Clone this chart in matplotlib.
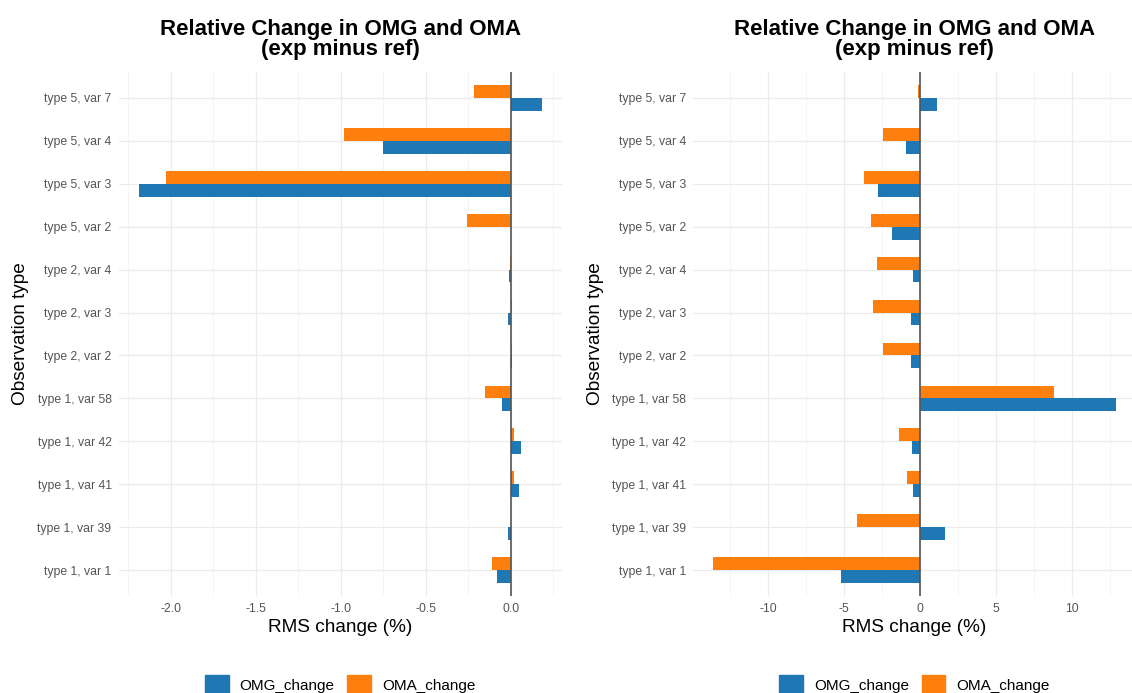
import numpy as np
import matplotlib
matplotlib.use("Agg")
import matplotlib.pyplot as plt
from matplotlib.patches import Patch

plt.rcParams['font.family'] = ['Liberation Sans', 'DejaVu Sans']

# categories, bottom to top
obs_types = ["type 1, var 1", "type 1, var 39", "type 1, var 41", "type 1, var 42",
             "type 1, var 58", "type 2, var 2", "type 2, var 3", "type 2, var 4",
             "type 5, var 2", "type 5, var 3", "type 5, var 4", "type 5, var 7"]

# left panel
omg_left = [-0.08, -0.02, 0.045, 0.06, -0.05, 0.004, -0.02, -0.01, 0.003, -2.19, -0.75, 0.18]
oma_left = [-0.11, 0.003, 0.02, 0.02, -0.15, 0.004, 0.005, -0.005, -0.26, -2.03, -0.98, -0.22]
ticks_left = [-2.0, -1.5, -1.0, -0.5, 0.0]

# right panel
omg_right = [-5.17, 1.64, -0.42, -0.54, 12.9, -0.6, -0.6, -0.47, -1.8, -2.77, -0.94, 1.1]
oma_right = [-13.6, -4.16, -0.82, -1.36, 8.8, -2.4, -3.1, -2.8, -3.2, -3.7, -2.4, -0.13]
ticks_right = [-10, -5, 0, 5, 10]

BLUE = "#1f77b4"
ORANGE = "#ff7f0e"
W, H = 1132, 693

fig = plt.figure(figsize=(W / 100, H / 100), dpi=100)


def panel(x0, x1, omg, oma, ticks, fmt):
    ax = fig.add_axes([x0 / W, (H - 596) / H, (x1 - x0) / W, (596 - 72) / H])
    y = np.arange(len(obs_types))
    bw = 0.3
    ax.barh(y - bw / 2, omg, height=bw, color=BLUE, zorder=3)
    ax.barh(y + bw / 2, oma, height=bw, color=ORANGE, zorder=3)
    ax.axvline(0, color="#555555", lw=1.2, zorder=4)

    lo = min(min(omg), min(oma))
    hi = max(max(omg), max(oma))
    pad = 0.05 * (hi - lo)
    ax.set_xlim(lo - pad, hi + pad)
    ax.set_ylim(-0.6, len(obs_types) - 0.4)

    ax.set_yticks(y)
    ax.set_yticklabels(obs_types)
    ax.set_xticks(ticks)
    ax.set_xticklabels([fmt(t) for t in ticks])
    step = ticks[1] - ticks[0]
    minors = np.arange(ticks[0] - step / 2, hi + pad, step)
    ax.set_xticks(minors, minor=True)

    ax.grid(True, which="major", color="#ebebeb", lw=0.9, zorder=0)
    ax.grid(True, which="minor", axis="x", color="#f4f4f4", lw=0.6, zorder=0)
    for s in ax.spines.values():
        s.set_visible(False)
    ax.tick_params(length=0, labelsize=8.8, colors="#555555", pad=5)
    ax.tick_params(which="minor", length=0)

    ax.set_xlabel("RMS change (%)", fontsize=13.7, labelpad=3)
    ax.set_ylabel("Observation type", fontsize=13.7, labelpad=6)
    ax.set_title("Relative Change in OMG and OMA\n(exp minus ref)", fontsize=16,
                 fontweight="bold", pad=12, linespacing=0.95)

    handles = [Patch(color=BLUE, label="OMG_change"), Patch(color=ORANGE, label="OMA_change")]
    cx = (x0 + x1) / 2 / W
    fig.legend(handles=handles, loc="center", bbox_to_anchor=(cx, 8 / H), ncol=2,
               frameon=False, fontsize=11, handlelength=1.55, handleheight=1.55,
               columnspacing=0.85, handletextpad=0.7, borderpad=0)
    return ax


panel(118.5, 561.7, omg_left, oma_left, ticks_left, lambda t: "%.1f" % t)
panel(693, 1136, omg_right, oma_right, ticks_right, lambda t: "%d" % t)

fig.savefig("out.png", dpi=100, facecolor="white")
